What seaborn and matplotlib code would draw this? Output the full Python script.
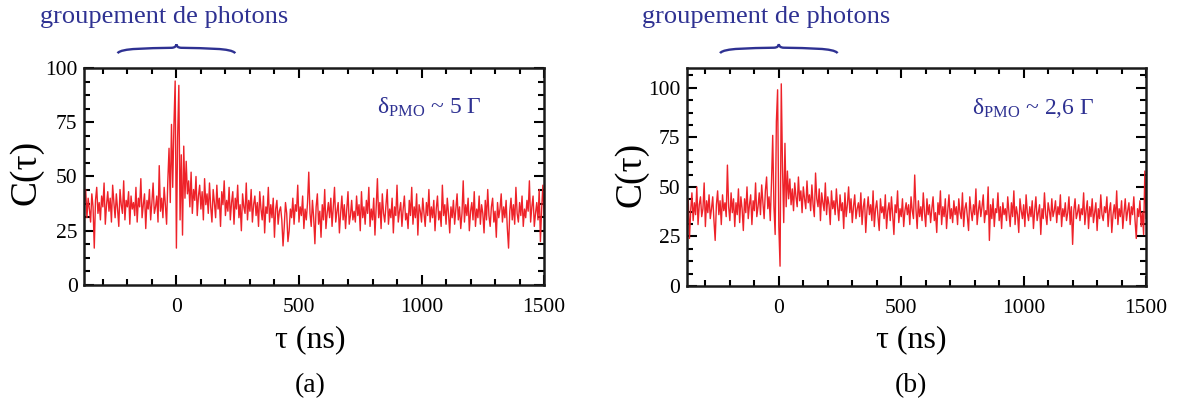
import numpy as np
import matplotlib
matplotlib.use('Agg')
import matplotlib.pyplot as plt
from matplotlib.path import Path
from matplotlib.patches import PathPatch
from matplotlib.transforms import blended_transform_factory
from matplotlib.ticker import MultipleLocator
import seaborn as sns

# time grid of the correlation histogram (ns)
tau_ns = np.arange(-375, 1501, 5)

# C(tau), panel (a): delta_PMO ~ 5 Gamma
c_a = [
    38, 44, 31, 40, 35, 29, 42, 36, 17, 39, 45, 33, 38, 30, 41, 36, 47, 28, 37, 43,
    34, 40, 29, 46, 38, 31, 42, 35, 27, 44, 37, 33, 48, 30, 39, 36, 43, 28, 41, 35,
    38, 32, 45, 29, 40, 36, 49, 31, 37, 42, 26, 39, 35, 44, 30, 38, 47, 33, 36, 41,
    29, 55, 34, 40, 31, 45, 37, 28, 48, 63, 38, 74, 45, 74, 94, 17, 68, 92, 30, 60,
    23, 64, 40, 57, 42, 48, 36, 52, 33, 44, 39, 50, 32, 41, 46, 35, 43, 30, 49, 37,
    42, 33, 47, 36, 29, 44, 38, 31, 46, 35, 40, 27, 43, 37, 48, 32, 39, 34, 45, 30,
    38, 43, 28, 40, 35, 46, 31, 37, 25, 42, 36, 33, 47, 30, 39, 34, 44, 29, 37, 41,
    32, 38, 27, 43, 35, 30, 41, 24, 36, 33, 45, 29, 37, 31, 40, 22, 35, 39, 28, 34,
    36, 30, 18, 27, 38, 33, 20, 25, 35, 31, 40, 28, 37, 34, 46, 29, 36, 32, 41, 26,
    35, 30, 38, 52, 33, 27, 39, 31, 19, 36, 42, 28, 34, 22, 37, 30, 44, 26, 33, 38,
    31, 40, 27, 36, 45, 29, 34, 38, 24, 33, 41, 30, 37, 26, 35, 43, 28, 32, 39, 30,
    34, 29, 41, 32, 37, 25, 43, 31, 36, 28, 39, 33, 45, 27, 35, 30, 40, 23, 36, 49,
    31, 38, 26, 42, 33, 29, 37, 44, 28, 35, 31, 40, 24, 36, 32, 46, 29, 34, 38, 27,
    35, 41, 30, 33, 26, 39, 32, 45, 28, 36, 31, 42, 23, 37, 34, 29, 40, 33, 27, 38,
    32, 44, 29, 36, 31, 39, 25, 35, 41, 30, 34, 27, 46, 32, 37, 28, 40, 33, 24, 36,
    31, 39, 28, 35, 42, 30, 36, 26, 33, 48, 29, 37, 32, 40, 25, 34, 38, 30, 43, 27,
    35, 31, 41, 28, 37, 33, 24, 39, 30, 44, 32, 27, 36, 40, 29, 34, 22, 38, 31, 35,
    42, 29, 36, 31, 39, 26, 17, 34, 40, 30, 37, 28, 45, 33, 29, 38, 32, 41, 27, 35,
    31, 39, 34, 48, 29, 36, 41, 27, 33, 38, 30, 44, 20, 35, 46, 32,
]

# C(tau), panel (b): delta_PMO ~ 2,6 Gamma
c_b = [
    40, 44, 24, 38, 47, 33, 42, 36, 50, 31, 41, 45, 35, 39, 52, 30, 43, 37, 46, 34,
    39, 45, 33, 23, 41, 48, 36, 43, 31, 46, 38, 42, 35, 61, 40, 33, 47, 37, 44, 30,
    42, 36, 49, 32, 45, 39, 28, 44, 37, 50, 34, 41, 46, 31, 43, 38, 52, 35, 40, 47,
    36, 51, 42, 34, 48, 55, 39, 45, 33, 52, 76, 40, 26, 83, 99, 30, 10, 102, 60, 32,
    72, 40, 58, 44, 54, 41, 49, 38, 52, 45, 40, 55, 43, 48, 37, 50, 44, 39, 53, 42,
    46, 38, 51, 41, 35, 57, 44, 40, 49, 33, 47, 42, 38, 52, 36, 45, 41, 31, 48, 39,
    43, 36, 49, 40, 33, 46, 38, 42, 29, 47, 35, 41, 50, 37, 44, 32, 40, 46, 34, 39,
    42, 35, 47, 31, 40, 44, 27, 38, 45, 36, 41, 33, 48, 30, 39, 43, 35, 28, 44, 37,
    40, 34, 46, 29, 38, 42, 33, 45, 36, 26, 41, 37, 48, 32, 39, 35, 44, 30, 38, 42,
    36, 41, 31, 45, 38, 34, 56, 39, 29, 43, 35, 40, 33, 47, 37, 30, 44, 36, 41, 32,
    39, 45, 33, 37, 27, 42, 36, 48, 31, 40, 35, 44, 29, 38, 46, 34, 39, 32, 43, 36,
    40, 31, 44, 37, 34, 47, 30, 39, 42, 35, 28, 45, 38, 33, 41, 36, 49, 31, 38, 43,
    35, 40, 46, 32, 38, 36, 50, 23, 41, 34, 44, 30, 39, 37, 47, 33, 40, 29, 42, 36,
    39, 33, 45, 37, 30, 42, 35, 48, 31, 40, 36, 27, 44, 38, 34, 41, 30, 46, 37, 33,
    40, 35, 43, 29, 38, 45, 33, 37, 41, 26, 39, 34, 47, 36, 31, 42, 38, 33, 44, 35,
    38, 43, 32, 40, 36, 46, 30, 39, 35, 42, 33, 37, 45, 31, 40, 21, 38, 44, 34, 37,
    41, 33, 39, 36, 47, 31, 38, 43, 29, 40, 35, 44, 32, 37, 42, 28, 39, 34, 46, 36,
    33, 40, 37, 45, 30, 38, 42, 27, 36, 41, 34, 48, 31, 39, 35, 43, 29, 37, 44, 33,
    38, 42, 31, 40, 36, 45, 33, 24, 39, 35, 43, 30, 37, 26, 58, 34,
]

panel_tags = ['(a)', '(b)']
delta_labels = [r'$\delta_{\mathrm{PMO}}$ ~ 5 Γ', r'$\delta_{\mathrm{PMO}}$ ~ 2,6 Γ']
y_top = [100, 110]
y_ticks = [0, 25, 50, 75, 100]
x_ticks = [0, 500, 1000, 1500]

sns.set_style('ticks', {'axes.edgecolor': 'black', 'text.color': 'black',
                        'xtick.color': 'black', 'ytick.color': 'black',
                        'axes.labelcolor': 'black'})
plt.rcParams['font.family'] = ['Liberation Serif', 'DejaVu Serif']
plt.rcParams['mathtext.fontset'] = 'custom'
plt.rcParams['mathtext.rm'] = 'Liberation Serif'
plt.rcParams['mathtext.it'] = 'Liberation Serif'

red = '#EE2229'
blue = '#2E3192'

fig = plt.figure(figsize=(11.88, 4.03), dpi=100)
ax_a = fig.add_axes([0.0711, 0.2928, 0.3869, 0.5385])
ax_b = fig.add_axes([0.5783, 0.2903, 0.3864, 0.5410])
axes = [ax_a, ax_b]
series = [c_a, c_b]
delta_pos = [(820, 82), (790, 90)]
panel_cx = [310, 911]
ylab_pos = [(26, 172), (631, 174)]

for i, ax in enumerate(axes):
    sns.lineplot(x=tau_ns, y=series[i], ax=ax, color=red, linewidth=1.0, estimator=None)
    ax.set_xlim(-375, 1500)
    ax.set_ylim(0, y_top[i])
    ax.set_xticks(x_ticks)
    ax.set_yticks(y_ticks)
    ax.xaxis.set_minor_locator(MultipleLocator(100))
    ax.yaxis.set_minor_locator(MultipleLocator(6.25))
    ax.tick_params(which='both', direction='in', top=True, right=True, width=1.5,
                   labelsize=15.5, colors='black')
    ax.tick_params(which='major', length=7)
    ax.tick_params(which='minor', length=4.5)
    ax.tick_params(axis='x', pad=9)
    ax.tick_params(axis='y', pad=5)
    for sp in ax.spines.values():
        sp.set_linewidth(1.8)
        sp.set_color('#1a1a1a')
        sp.set_visible(True)
    ax.set_xlabel('')
    ax.set_ylabel('')

    ax.text(delta_pos[i][0], delta_pos[i][1], delta_labels[i], color=blue, fontsize=17,
            ha='left', va='center')

    # curly brace over the bunching peak
    tr = blended_transform_factory(ax.transData, ax.transAxes)
    verts = [(-240, 1.068), (-225, 1.092), (-120, 1.090), (-20, 1.093),
             (-5, 1.094), (-2, 1.100), (0, 1.109),
             (2, 1.100), (5, 1.094), (20, 1.093),
             (120, 1.090), (225, 1.092), (240, 1.068)]
    codes = [Path.MOVETO] + [Path.CURVE4] * 12
    ax.add_patch(PathPatch(Path(verts, codes), transform=tr, fill=False,
                           edgecolor=blue, linewidth=1.7, clip_on=False))

    fig.text(ax.get_position().x0 + (ax.get_position().width * (375 - 50) / 1875), 1 - 17 / 403,
             'groupement de photons', color=blue, fontsize=19, ha='center', va='center')
    fig.text(ylab_pos[i][0] / 1188, 1 - ylab_pos[i][1] / 403, 'C(τ)', fontsize=27, rotation=90,
             ha='center', va='center', color='black')
    fig.text(panel_cx[i] / 1188, 1 - 340 / 403, 'τ (ns)', fontsize=23, ha='center', va='center',
             color='black')
    fig.text(panel_cx[i] / 1188, 1 - 386 / 403, panel_tags[i], fontsize=20, ha='center',
             va='center', color='black')

fig.savefig('out.png', dpi=100)
